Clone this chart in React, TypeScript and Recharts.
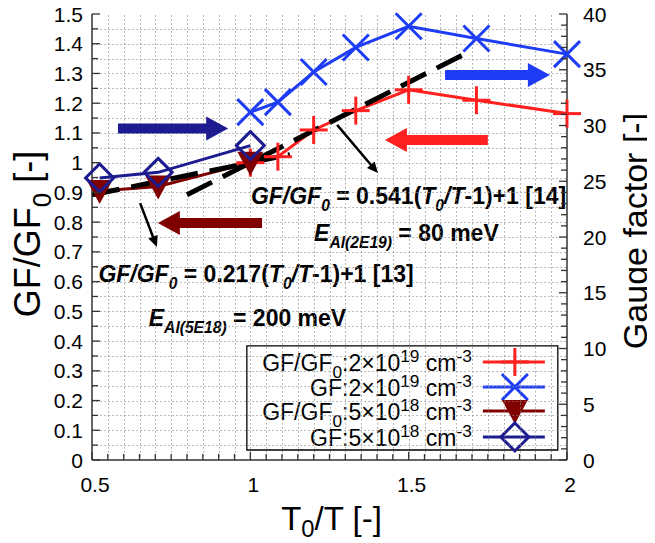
import React from "react";
import {
  ComposedChart,
  Line,
  XAxis,
  YAxis,
  ReferenceArea,
  ReferenceLine,
} from "recharts";

const FONT = "'Liberation Sans', Arial, sans-serif";
const RED = "#ff2020";
const BLUE = "#1f3cf5";
const DARKRED = "#800000";
const NAVY = "#1c1c90";
const AXIS = "#333";
const GRID = "#8c8c8c";

// T0/T for the two doping levels
const xHigh = [1.0, 1.087, 1.2, 1.333, 1.5, 1.714, 2.0];
const ratioHigh = [1.0, 1.02, 1.11, 1.175, 1.245, 1.21, 1.165];
const gfHigh = [31.2, 32.1, 34.8, 37.0, 38.9, 37.8, 36.4];

const xLow = [0.524, 0.709, 1.0];
const ratioLow = [0.905, 0.92, 1.0];
const gfLow = [25.3, 25.8, 28.2];

// fit lines (end points)
const fit14X = [0.8, 1.67];
const fit14Y = [0.892, 1.362];
const fit13X = [0.5, 1.125];
const fit13Y = [0.892, 1.027];

const xLabels = [0.5, 1, 1.5, 2];
const leftLabels = [0, 0.1, 0.2, 0.3, 0.4, 0.5, 0.6, 0.7, 0.8, 0.9, 1, 1.1, 1.2, 1.3, 1.4, 1.5];
const rightLabels = [0, 5, 10, 15, 20, 25, 30, 35, 40];

const xTicks = Array.from({ length: 31 }, (_, i) => Math.round(50 + i * 5) / 100);
const leftTicks = Array.from({ length: 31 }, (_, i) => Math.round(i * 5) / 100);
const rightTicks = Array.from({ length: 41 }, (_, i) => i);

const zip = (xs: number[], ys: number[]) => xs.map((x, i) => ({ x, y: ys[i] }));

const isLabel = (list: number[], v: number) => list.some((l) => Math.abs(l - v) < 1e-6);

type Seg = { t: string; i?: boolean; sub?: boolean; sup?: boolean };

const Rich = ({ x, y, segs, size, bold, anchor = "middle", transform, small = 0.68, subShift = 0.3 }: any) => {
  let shift = 0;
  return (
    <text
      x={x}
      y={y}
      fontSize={size}
      fontWeight={bold ? "bold" : "normal"}
      fontFamily={FONT}
      textAnchor={anchor}
      fill="#000"
      xmlSpace="preserve"
      transform={transform}
    >
      {(segs as Seg[]).map((s, k) => {
        const target = s.sub ? size * subShift : s.sup ? -size * 0.4 : 0;
        const dy = target - shift;
        shift = target;
        return (
          <tspan
            key={k}
            dy={dy}
            fontStyle={s.i ? "italic" : "normal"}
            fontSize={s.sub || s.sup ? size * small : size}
          >
            {s.t}
          </tspan>
        );
      })}
    </text>
  );
};

// markers
const Plus = ({ cx, cy, color = RED }: any) => (
  <g>
    <line x1={cx - 14} x2={cx + 14} y1={cy} y2={cy} stroke={color} strokeWidth={3} />
    <line x1={cx} x2={cx} y1={cy - 14} y2={cy + 14} stroke={color} strokeWidth={3} />
  </g>
);
const Cross = ({ cx, cy, color = BLUE }: any) => (
  <g>
    <line x1={cx - 13} x2={cx + 13} y1={cy - 13} y2={cy + 13} stroke={color} strokeWidth={3} />
    <line x1={cx - 13} x2={cx + 13} y1={cy + 13} y2={cy - 13} stroke={color} strokeWidth={3} />
  </g>
);
const TriDown = ({ cx, cy, color = DARKRED }: any) => (
  <polygon points={`${cx - 13},${cy - 11} ${cx + 13},${cy - 11} ${cx},${cy + 13}`} fill={color} />
);
const Diamond = ({ cx, cy, color = NAVY }: any) => (
  <polygon
    points={`${cx},${cy - 14} ${cx + 14},${cy} ${cx},${cy + 14} ${cx - 14},${cy}`}
    fill="none"
    stroke={color}
    strokeWidth={3}
  />
);

const dotOf = (M: any) => (p: any) => <M key={p.index} cx={p.cx} cy={p.cy} />;

const Arrow = ({ x1, y1, x2, y2, color, w, hl, hw }: any) => {
  const dx = x2 - x1;
  const dy = y2 - y1;
  const len = Math.sqrt(dx * dx + dy * dy) || 1;
  const ux = dx / len;
  const uy = dy / len;
  const bx = x2 - ux * hl;
  const by = y2 - uy * hl;
  const px = -uy * (hw / 2);
  const py = ux * (hw / 2);
  return (
    <g>
      <line x1={x1} y1={y1} x2={bx + ux} y2={by + uy} stroke={color} strokeWidth={w} />
      <polygon points={`${x2},${y2} ${bx + px},${by + py} ${bx - px},${by - py}`} fill={color} />
    </g>
  );
};

// dotted grid line drawn from the reference line's own end points
const GridLine = ({ x1, y1, x2, y2 }: any) => (
  <line
    x1={Math.round(x1) + 0.5}
    y1={Math.round(y1) + 0.5}
    x2={Math.round(x2) + 0.5}
    y2={Math.round(y2) + 0.5}
    stroke={GRID}
    strokeWidth={1}
    strokeDasharray="1.2 2.8"
  />
);

const BottomTick = ({ x, y, payload }: any) => {
  const v = payload.value;
  const major = isLabel(xLabels, v);
  return (
    <g>
      <line x1={x} x2={x} y1={y} y2={y - (major ? 8 : 6)} stroke={AXIS} strokeWidth={1.3} />
      {major && (
        <text x={x + 3} y={y + 32} textAnchor="middle" fontSize={21} fontFamily={FONT} fill="#000">
          {v}
        </text>
      )}
    </g>
  );
};
const TopTick = ({ x, y, payload }: any) => {
  const major = isLabel(xLabels, payload.value);
  return <line x1={x} x2={x} y1={y} y2={y + (major ? 8 : 6)} stroke={AXIS} strokeWidth={1.3} />;
};
const LeftTick = ({ x, y, payload }: any) => {
  const v = payload.value;
  const major = isLabel(leftLabels, v);
  return (
    <g>
      <line x1={x} x2={x + (major ? 8 : 6)} y1={y} y2={y} stroke={AXIS} strokeWidth={1.3} />
      {major && (
        <text x={x - 9} y={y + 7.5} textAnchor="end" fontSize={21} fontFamily={FONT} fill="#000">
          {Number(v.toFixed(2))}
        </text>
      )}
    </g>
  );
};
const RightTick = ({ x, y, payload }: any) => {
  const v = payload.value;
  const major = isLabel(rightLabels, v);
  return (
    <g>
      <line x1={x} x2={x - (major ? 8 : 6)} y1={y} y2={y} stroke={AXIS} strokeWidth={1.3} />
      {major && (
        <text x={x + 16} y={y + 7.5} textAnchor="start" fontSize={21} fontFamily={FONT} fill="#000">
          {v}
        </text>
      )}
    </g>
  );
};

const fitA: Seg[] = [
  { t: "GF/GF", i: true },
  { t: "0", i: true, sub: true },
  { t: " = 0.541(" },
  { t: "T", i: true },
  { t: "0", i: true, sub: true },
  { t: "/T", i: true },
  { t: "-1)+1 [14]" },
];
const eaA: Seg[] = [
  { t: "E", i: true },
  { t: "Al(2E19)", i: true, sub: true },
  { t: " = 80 meV" },
];
const fitB: Seg[] = [
  { t: "GF/GF", i: true },
  { t: "0", i: true, sub: true },
  { t: " = 0.217(" },
  { t: "T", i: true },
  { t: "0", i: true, sub: true },
  { t: "/T", i: true },
  { t: "-1)+1 [13]" },
];
const eaB: Seg[] = [
  { t: "E", i: true },
  { t: "Al(5E18)", i: true, sub: true },
  { t: " = 200 meV" },
];

const boxLabel = (segs: Seg[]) => (p: any) => {
  const vb = p.viewBox;
  return <Rich x={vb.x + vb.width / 2} y={vb.y + vb.height / 2 + 8} segs={segs} size={23} bold />;
};

const legendRows = [
  {
    segs: [{ t: "GF/GF" }, { t: "0", sub: true }, { t: ":2×10" }, { t: "19", sup: true }, { t: " cm" }, { t: "-3", sup: true }],
    color: RED,
    M: Plus,
  },
  {
    segs: [{ t: "GF:2×10" }, { t: "19", sup: true }, { t: " cm" }, { t: "-3", sup: true }],
    color: BLUE,
    M: Cross,
  },
  {
    segs: [{ t: "GF/GF" }, { t: "0", sub: true }, { t: ":5×10" }, { t: "18", sup: true }, { t: " cm" }, { t: "-3", sup: true }],
    color: DARKRED,
    M: TriDown,
  },
  {
    segs: [{ t: "GF:5×10" }, { t: "18", sup: true }, { t: " cm" }, { t: "-3", sup: true }],
    color: NAVY,
    M: Diamond,
  },
];
const rowOffsets = [16, 41, 65, 91];

const LegendBox = (p: any) => {
  const vb = p.viewBox;
  return (
    <g>
      {legendRows.map((r, k) => {
        const cy = vb.y + rowOffsets[k];
        return (
          <g key={k}>
            <Rich x={vb.x + 225} y={cy + 9} segs={r.segs} size={23} anchor="end" small={0.75} />
            <line x1={vb.x + 236} x2={vb.x + 298} y1={cy} y2={cy} stroke={r.color} strokeWidth={3} />
            <r.M cx={vb.x + 268} cy={cy} />
          </g>
        );
      })}
    </g>
  );
};

const LeftTitle = (p: any) => {
  const vb = p.viewBox;
  const cx = vb.x + 28;
  const cy = vb.y + vb.height / 2 - 3;
  return (
    <Rich
      x={cx}
      y={cy + 12}
      segs={[{ t: "GF/GF" }, { t: "0", sub: true }, { t: " [-]" }]}
      size={36}
      small={0.72}
      transform={`rotate(-90, ${cx}, ${cy})`}
    />
  );
};
const RightTitle = (p: any) => {
  const vb = p.viewBox;
  const cx = vb.x + 69;
  const cy = vb.y + vb.height / 2 - 6;
  return <Rich x={cx} y={cy + 11} segs={[{ t: "Gauge factor [-]" }]} size={34} transform={`rotate(-90, ${cx}, ${cy})`} />;
};
const BottomTitle = (p: any) => {
  const vb = p.viewBox;
  return (
    <Rich
      x={vb.x + vb.width / 2 + 2}
      y={vb.y + 70}
      segs={[{ t: "T" }, { t: "0", sub: true }, { t: "/T [-]" }]}
      size={33}
      small={0.72}
      subShift={0.22}
    />
  );
};

const arrows = [
  { from: [0.582, 1.115], to: [0.93, 1.115], color: NAVY, w: 10, hl: 22, hw: 24 },
  { from: [1.615, 1.295], to: [1.946, 1.295], color: BLUE, w: 10, hl: 22, hw: 24 },
  { from: [1.75, 1.076], to: [1.425, 1.076], color: RED, w: 10, hl: 22, hw: 24 },
  { from: [1.037, 0.797], to: [0.708, 0.797], color: DARKRED, w: 10, hl: 22, hw: 24 },
  { from: [1.274, 1.127], to: [1.403, 0.965], color: "#000", w: 2.5, hl: 11, hw: 10 },
  { from: [0.652, 0.864], to: [0.705, 0.716], color: "#000", w: 2.5, hl: 11, hw: 10 },
];

const innerX = xTicks.slice(1, -1);
const innerY = leftTicks.slice(1, -1);

export default function App() {
  return (
    <div style={{ width: 655, height: 543, margin: "-8px 0 0 -8px" }}>
      <ComposedChart width={655} height={543} margin={{ top: 14, right: 0, bottom: 0, left: 0 }}>
        <XAxis
          dataKey="x"
          type="number"
          domain={[0.5, 2]}
          ticks={xTicks}
          interval={0}
          height={83}
          tickSize={0}
          tickMargin={0}
          tick={<BottomTick />}
          axisLine={{ stroke: AXIS, strokeWidth: 1.5 }}
          label={{ content: BottomTitle }}
        />
        <XAxis
          xAxisId="top"
          orientation="top"
          dataKey="x"
          type="number"
          domain={[0.5, 2]}
          ticks={xTicks}
          interval={0}
          height={0}
          tickSize={0}
          tickMargin={0}
          tick={<TopTick />}
          axisLine={{ stroke: AXIS, strokeWidth: 1.5 }}
        />
        <YAxis
          yAxisId="left"
          type="number"
          domain={[0, 1.5]}
          ticks={leftTicks}
          interval={0}
          width={92}
          tickSize={0}
          tickMargin={0}
          tick={<LeftTick />}
          axisLine={{ stroke: AXIS, strokeWidth: 1.5 }}
          label={{ content: LeftTitle }}
        />
        <YAxis
          yAxisId="right"
          orientation="right"
          type="number"
          domain={[0, 40]}
          ticks={rightTicks}
          interval={0}
          width={88}
          tickSize={0}
          tickMargin={0}
          tick={<RightTick />}
          axisLine={{ stroke: AXIS, strokeWidth: 1.5 }}
          label={{ content: RightTitle }}
        />

        {/* dotted minor grid */}
        {innerX.map((t) => (
          <ReferenceLine
            key={`gx${t}`}
            yAxisId="left"
            segment={[
              { x: t, y: 0 },
              { x: t, y: 1.5 },
            ]}
            shape={(p: any) => <GridLine {...p} />}
          />
        ))}
        {innerY.map((t) => (
          <ReferenceLine
            key={`gy${t}`}
            yAxisId="left"
            segment={[
              { x: 0.5, y: t },
              { x: 2, y: t },
            ]}
            shape={(p: any) => <GridLine {...p} />}
          />
        ))}

        <ReferenceArea yAxisId="left" x1={0.999} x2={2.0} y1={0.831} y2={0.942} fill="#fff" fillOpacity={1} stroke="none" label={{ content: boxLabel(fitA) }} />
        <ReferenceArea yAxisId="left" x1={1.157} x2={1.829} y1={0.696} y2={0.831} fill="#fff" fillOpacity={1} stroke="none" label={{ content: boxLabel(eaA) }} />
        <ReferenceArea yAxisId="left" x1={0.5} x2={1.536} y1={0.552} y2={0.696} fill="#fff" fillOpacity={1} stroke="none" label={{ content: boxLabel(fitB) }} />
        <ReferenceArea yAxisId="left" x1={0.652} x2={1.33} y1={0.404} y2={0.552} fill="#fff" fillOpacity={1} stroke="none" label={{ content: boxLabel(eaB) }} />
        <ReferenceArea yAxisId="left" x1={0.989} x2={1.971} y1={0.0336} y2={0.3835} fill="#fff" fillOpacity={1} stroke="#000" strokeWidth={1.3} label={{ content: LegendBox }} />

        <Line data={zip(xHigh, ratioHigh)} dataKey="y" yAxisId="left" stroke={RED} strokeWidth={3} dot={dotOf(Plus)} isAnimationActive={false} />
        <Line data={zip(xHigh, gfHigh)} dataKey="y" yAxisId="right" stroke={BLUE} strokeWidth={3} dot={dotOf(Cross)} isAnimationActive={false} />
        <Line data={zip(xLow, ratioLow)} dataKey="y" yAxisId="left" stroke={DARKRED} strokeWidth={3} dot={dotOf(TriDown)} isAnimationActive={false} />
        <Line data={zip(xLow, gfLow)} dataKey="y" yAxisId="right" stroke={NAVY} strokeWidth={3} dot={dotOf(Diamond)} isAnimationActive={false} />
        <Line data={zip(fit14X, fit14Y)} dataKey="y" yAxisId="left" stroke="#000" strokeWidth={5} strokeDasharray="28 12" dot={false} isAnimationActive={false} />
        <Line data={zip(fit13X, fit13Y)} dataKey="y" yAxisId="left" stroke="#000" strokeWidth={5} strokeDasharray="28 12" dot={false} isAnimationActive={false} />

        {arrows.map((a, k) => (
          <ReferenceLine
            key={k}
            yAxisId="left"
            segment={[
              { x: a.from[0], y: a.from[1] },
              { x: a.to[0], y: a.to[1] },
            ]}
            shape={(p: any) => <Arrow {...p} color={a.color} w={a.w} hl={a.hl} hw={a.hw} />}
          />
        ))}
      </ComposedChart>
    </div>
  );
}
